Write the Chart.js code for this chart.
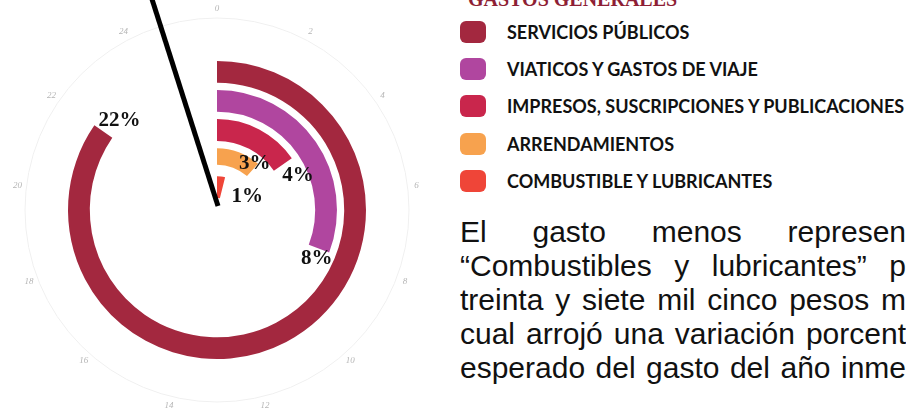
<!DOCTYPE html>
<html>
<head>
<meta charset="utf-8">
<script src="https://cdn.jsdelivr.net/npm/chart.js@4.4.1/dist/chart.umd.min.js"></script>
<style>
  html, body { margin: 0; padding: 0; background: #fff; }
  body { width: 906px; height: 416px; overflow: hidden; position: relative; }
  #gastosChart { position: absolute; left: 0; top: 0; }
  .legend-title {
    position: absolute; left: 468px; top: -12px;
    font: bold 20px "Liberation Serif", serif; color: #8e1f35; white-space: nowrap;
  }
  #legend { position: absolute; left: 460px; top: 13px; }
  .legend-row { display: flex; align-items: center; height: 37.3px; }
  .legend-swatch { width: 26px; height: 22px; border-radius: 6px; margin-right: 21px; }
  .legend-text { font: bold 18px Lato, sans-serif; color: #111; white-space: nowrap; }
  #texto { position: absolute; left: 460px; top: 215px; width: 446px; }
  #texto div {
    font: 30px "Liberation Sans", Arial, sans-serif; line-height: 34px; color: #111;
    text-align: justify; text-align-last: justify; white-space: normal;
  }
</style>
</head>
<body>
<canvas id="gastosChart" width="434" height="420"></canvas>
<div class="legend-title">GASTOS GENERALES</div>
<div id="legend"></div>
<div id="texto">
  <div>El gasto menos represen</div>
  <div>“Combustibles y lubricantes” p</div>
  <div>treinta y siete mil cinco pesos m</div>
  <div>cual arrojó una variación porcent</div>
  <div>esperado del gasto del año inme</div>
</div>

<script>
// ## DATOS ##
const categories = [
  "SERVICIOS PÚBLICOS",
  "VIATICOS Y GASTOS DE VIAJE",
  "IMPRESOS, SUSCRIPCIONES Y PUBLICACIONES",
  "ARRENDAMIENTOS",
  "COMBUSTIBLE Y LUBRICANTES",
];
const percentages = [22, 8, 4, 3, 1];
const percentLabels = ["22%", "8%", "4%", "3%", "1%"];
const tickLabels = ["0", "2", "4", "6", "8", "10", "12", "14", "16", "18", "20", "22", "24"];
const scaleMax = 26;

// ## ESTILO ##
const colors = ["#a3283f", "#b0469f", "#c9264c", "#f7a24e", "#ef4538"];
const ringWeights = [21, 21, 21, 16, 21];
const gapWeights = [7, 7, 7, 11];
const labelNudge = [
  { arc: 19, r: -6 },
  { arc: 10, r: 2 },
  { arc: 16, r: 8 },
  { arc: -2, r: 6 },
  { arc: 21, r: 10 },
];

// legend
const legendEl = document.getElementById("legend");
categories.forEach((name, i) => {
  const row = document.createElement("div");
  row.className = "legend-row";
  row.innerHTML =
    `<span class="legend-swatch" style="background:${colors[i]}"></span>` +
    `<span class="legend-text">${name}</span>`;
  legendEl.appendChild(row);
});

// one ring per category, transparent rings in between as spacing
const datasets = [];
percentages.forEach((value, i) => {
  datasets.push({
    label: categories[i],
    data: [value, scaleMax - value],
    backgroundColor: [colors[i], "rgba(0,0,0,0)"],
    borderWidth: 0,
    weight: ringWeights[i],
  });
  if (i < gapWeights.length) {
    datasets.push({
      label: "",
      data: [scaleMax],
      backgroundColor: ["rgba(0,0,0,0)"],
      borderWidth: 0,
      weight: gapWeights[i],
    });
  }
});

const ringDecor = {
  id: "ringDecor",
  beforeDatasetsDraw(chart) {
    const center = chart.getDatasetMeta(0).data[0];
    const ctx = chart.ctx;
    ctx.save();
    ctx.strokeStyle = "#f0f0f0";
    ctx.lineWidth = 1;
    ctx.beginPath();
    ctx.arc(center.x, center.y, 192, 0, Math.PI * 2);
    ctx.stroke();

    ctx.fillStyle = "#b5b5b5";
    ctx.font = "italic 9px 'Liberation Serif'";
    ctx.textAlign = "center";
    ctx.textBaseline = "middle";
    tickLabels.forEach((t) => {
      const a = (Number(t) / scaleMax) * Math.PI * 2;
      ctx.fillText(t, center.x + 201 * Math.sin(a), center.y - 201 * Math.cos(a));
    });
    ctx.restore();
  },
  afterDatasetsDraw(chart) {
    const ctx = chart.ctx;
    const center = chart.getDatasetMeta(0).data[0];
    ctx.save();
    ctx.fillStyle = "#111";
    ctx.font = "bold 21px 'Liberation Serif'";
    ctx.textAlign = "center";
    ctx.textBaseline = "middle";
    percentLabels.forEach((txt, i) => {
      const arc = chart.getDatasetMeta(i * 2).data[0];
      const mid = (arc.innerRadius + arc.outerRadius) / 2;
      const r = mid + labelNudge[i].r;
      const a = arc.endAngle + labelNudge[i].arc / mid;
      ctx.fillText(txt, arc.x + r * Math.cos(a), arc.y + r * Math.sin(a));
    });

    // pointer line from the scan
    const tilt = (17.7 * Math.PI) / 180;
    ctx.strokeStyle = "#000";
    ctx.lineWidth = 5;
    ctx.beginPath();
    ctx.moveTo(center.x + 1, center.y - 4);
    ctx.lineTo(center.x + 1 - 240 * Math.sin(tilt), center.y - 4 - 240 * Math.cos(tilt));
    ctx.stroke();
    ctx.restore();
  },
};

const ctx = document.getElementById("gastosChart").getContext("2d");
window.gastosChart = new Chart(ctx, {
  type: "doughnut",
  data: {
    labels: ["valor", "resto"],
    datasets: datasets,
  },
  options: {
    responsive: false,
    animation: false,
    radius: 149,
    cutout: 17,
    plugins: {
      legend: { display: false },
      tooltip: { enabled: false },
    },
  },
  plugins: [ringDecor],
});
</script>
</body>
</html>
